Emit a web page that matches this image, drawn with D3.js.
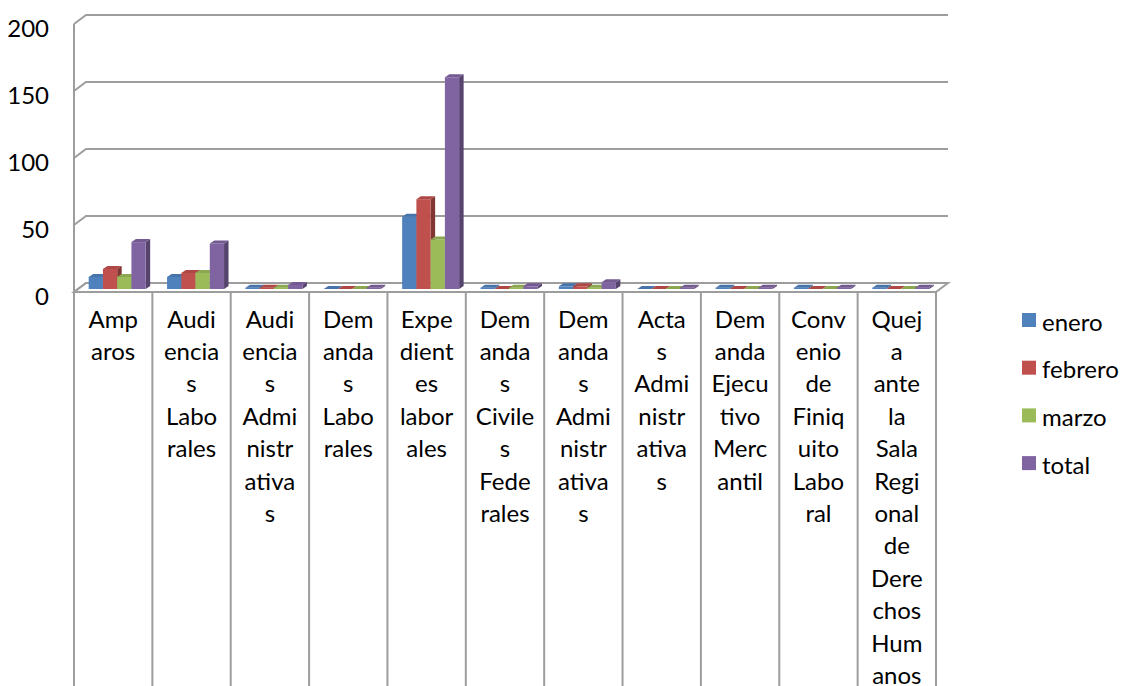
<!DOCTYPE html>
<html>
<head>
<meta charset="utf-8">
<script src="https://cdn.jsdelivr.net/npm/d3@7"></script>
<style>
  body { margin: 0; background: #fff; }
  text { font-family: Lato, "Noto Sans", sans-serif; fill: #000; }
</style>
</head>
<body>
<div id="chart"></div>
<script>
// categories, with the line breaks the axis table shows
var categories = [
    "Amp|aros",
    "Audi|encia|s|Labo|rales",
    "Audi|encia|s|Admi|nistr|ativa|s",
    "Dem|anda|s|Labo|rales",
    "Expe|dient|es|labor|ales",
    "Dem|anda|s|Civile|s|Fede|rales",
    "Dem|anda|s|Admi|nistr|ativa|s",
    "Acta|s|Admi|nistr|ativa|s",
    "Dem|anda|Ejecu|tivo|Merc|antil",
    "Conv|enio|de|Finiq|uito|Labo|ral",
    "Quej|a|ante|la|Sala|Regi|onal|de|Dere|chos|Hum|anos"
];

var series = ["enero", "febrero", "marzo", "total"];
var colors = ["#4F81BD", "#C0504D", "#9BBB59", "#8064A2"];

var enero   = [9, 9, 1, 0, 54, 1, 2, 0, 1, 1, 1];
var febrero = [15, 12, 1, 0, 67, 0, 2, 0, 0, 0, 0];
var marzo   = [9, 12, 1, 0, 37, 1, 1, 0, 0, 0, 0];
var total   = [35, 34, 3, 1, 158, 2, 5, 1, 1, 1, 1];

var yTicks = [0, 50, 100, 150, 200];

var values = [enero, febrero, marzo, total];

var w = 1126;
var h = 686;

// front plane of the box, and how far back the wall sits
var left = 74, right = 936;
var front0 = 292, frontTop = 24;
var depthX = 12, depthY = -9;

// bars sit in the middle of the depth
var barOffX = 4, barOffY = -3;
var barDX = 4.5, barDY = -3;

var svg = d3.select("#chart")
            .append("svg")
            .attr("width", w)
            .attr("height", h);

var xscale = d3.scaleBand()
               .domain(d3.range(categories.length))
               .range([left, right]);

var sscale = d3.scaleBand()
               .domain(series)
               .range([0, xscale.bandwidth()])
               .paddingInner(0)
               .paddingOuter(0.75);

// front of the box
var yfront = d3.scaleLinear().domain([0, 200]).range([front0, frontTop]);

var grey = "#9d9d9d";

// floor
svg.append("path")
    .attr("d", "M" + left + "," + front0 +
               "L" + (left + depthX) + "," + (front0 + depthY) +
               "L" + (right + depthX) + "," + (front0 + depthY) +
               "L" + right + "," + front0 + "Z")
    .attr("fill", "#fff")
    .attr("stroke", grey)
    .attr("stroke-width", 2);

// gridlines: side wall diagonal + back wall
var grid = svg.append("g").attr("class", "grid");
grid.selectAll("path")
    .data(yTicks)
    .enter()
    .append("path")
    .attr("d", function(d) {
        var y = yfront(d);
        return "M" + left + "," + y +
               "L" + (left + depthX) + "," + (y + depthY) +
               "L" + (right + depthX) + "," + (y + depthY);
    })
    .attr("fill", "none")
    .attr("stroke", grey)
    .attr("stroke-width", 2);

// value axis
svg.append("line")
    .attr("x1", left).attr("x2", left)
    .attr("y1", yfront(200)).attr("y2", front0)
    .attr("stroke", grey)
    .attr("stroke-width", 2);

svg.append("g")
    .selectAll("text")
    .data(yTicks)
    .enter()
    .append("text")
    .attr("x", 49)
    .attr("y", function(d) { return yfront(d) + 3; })
    .attr("text-anchor", "end")
    .attr("dominant-baseline", "central")
    .style("font-size", "24px")
    .text(function(d) { return d; });

// bars, drawn left to right so the next bar hides the side of the last one
var ybar = d3.scaleLinear().domain([0, 200]).range([front0 + barOffY, frontTop + barOffY]);

var bars = [];
categories.forEach(function(c, i) {
    series.forEach(function(s, j) {
        bars.push({cat: i, s: s, k: j, v: values[j][i]});
    });
});

var bar = svg.append("g")
    .attr("class", "bars")
    .selectAll("g")
    .data(bars)
    .enter()
    .append("g");

function geom(d) {
    var x0 = xscale(d.cat) + sscale(d.s) + barOffX;
    var x1 = x0 + sscale.bandwidth();
    var y0 = ybar(0);
    var y1 = ybar(d.v);
    return {x0: x0, x1: x1, y0: y0, y1: y1};
}

// side
bar.append("path")
    .attr("d", function(d) {
        var g = geom(d);
        return "M" + g.x1 + "," + g.y0 + "L" + g.x1 + "," + g.y1 +
               "L" + (g.x1 + barDX) + "," + (g.y1 + barDY) +
               "L" + (g.x1 + barDX) + "," + (g.y0 + barDY) + "Z";
    })
    .attr("fill", function(d) { return d3.color(colors[d.k]).darker(1.1); });

// front
bar.append("rect")
    .attr("x", function(d) { return geom(d).x0; })
    .attr("y", function(d) { return geom(d).y1; })
    .attr("width", sscale.bandwidth())
    .attr("height", function(d) { var g = geom(d); return g.y0 - g.y1; })
    .attr("fill", function(d) { return colors[d.k]; });

// top
bar.append("path")
    .attr("d", function(d) {
        var g = geom(d);
        return "M" + g.x0 + "," + g.y1 + "L" + g.x1 + "," + g.y1 +
               "L" + (g.x1 + barDX) + "," + (g.y1 + barDY) +
               "L" + (g.x0 + barDX) + "," + (g.y1 + barDY) + "Z";
    })
    .attr("fill", function(d) { return d3.color(colors[d.k]).darker(0.3); });

// category table under the floor
svg.append("g")
    .selectAll("line")
    .data(d3.range(categories.length + 1))
    .enter()
    .append("line")
    .attr("x1", function(d) { return left + d * xscale.step(); })
    .attr("x2", function(d) { return left + d * xscale.step(); })
    .attr("y1", front0)
    .attr("y2", h)
    .attr("stroke", grey)
    .attr("stroke-width", 2);

svg.append("line")
    .attr("x1", left).attr("x2", right)
    .attr("y1", front0).attr("y2", front0)
    .attr("stroke", grey)
    .attr("stroke-width", 2);

var lineH = 32.4;
svg.append("g")
    .selectAll("text")
    .data(categories)
    .enter()
    .append("text")
    .attr("text-anchor", "middle")
    .style("font-size", "24px")
    .each(function(d, i) {
        var cx = xscale(i) + xscale.bandwidth() / 2;
        d3.select(this).selectAll("tspan")
            .data(d.split("|"))
            .enter()
            .append("tspan")
            .attr("x", cx)
            .attr("y", function(t, k) { return 318 + k * lineH; })
            .attr("dominant-baseline", "central")
            .text(function(t) { return t; });
    });

// legend
var legend = svg.append("g")
    .selectAll("g")
    .data(series)
    .enter()
    .append("g")
    .attr("transform", function(d, i) { return "translate(1022," + (320 + i * 47.7) + ")"; });

legend.append("rect")
    .attr("x", 0).attr("y", -7)
    .attr("width", 14).attr("height", 14)
    .attr("fill", function(d, i) { return colors[i]; });

legend.append("text")
    .attr("x", 20)
    .attr("y", 1)
    .attr("dominant-baseline", "central")
    .style("font-size", "24px")
    .text(function(d) { return d; });
</script>
</body>
</html>
